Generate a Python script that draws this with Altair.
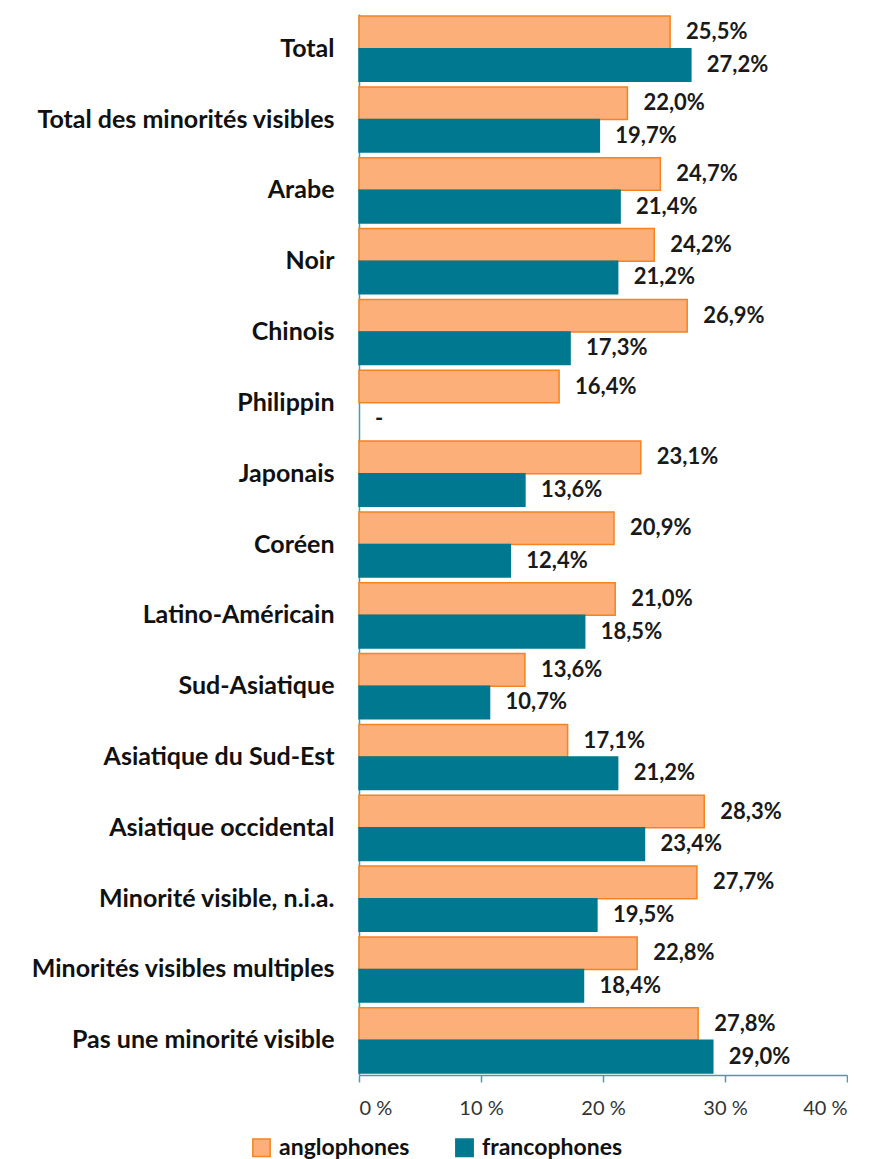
import altair as alt
import pandas as pd

categories = ["Total", "Total des minorités visibles", "Arabe", "Noir", "Chinois",
              "Philippin", "Japonais", "Coréen", "Latino-Américain", "Sud-Asiatique",
              "Asiatique du Sud-Est", "Asiatique occidental", "Minorité visible, n.i.a.",
              "Minorités visibles multiples", "Pas une minorité visible"]
anglophones = [25.5, 22.0, 24.7, 24.2, 26.9, 16.4, 23.1, 20.9, 21.0, 13.6, 17.1, 28.3, 27.7, 22.8, 27.8]
francophones = [27.2, 19.7, 21.4, 21.2, 17.3, None, 13.6, 12.4, 18.5, 10.7, 21.2, 23.4, 19.5, 18.4, 29.0]
groups = ["anglophones", "francophones"]

rows = []
for i, c in enumerate(categories):
    for g, vals in zip(groups, [anglophones, francophones]):
        v = vals[i]
        rows.append({
            "cat": c,
            "group": g,
            "value": v,
            "pos": v if v is not None else 0,
            "label": (f"{v:.1f}".replace(".", ",") + "%") if v is not None else "-",
        })
df = pd.DataFrame(rows)

FONT = "Lato"
AXIS_COLOR = "#4A9AB0"

y_enc = alt.Y("cat:N", sort=categories,
              scale=alt.Scale(paddingInner=0.08, paddingOuter=0.03),
              axis=alt.Axis(title=None, ticks=False, domainColor=AXIS_COLOR, domainWidth=1.5,
                            labelFontSize=25, labelFontWeight="bold", labelColor="#111111",
                            labelPadding=25, labelFont=FONT, labelLimit=500))
yoff = alt.YOffset("group:N", sort=groups, scale=alt.Scale(paddingInner=0, paddingOuter=0))

bars = alt.Chart(df).mark_bar(strokeWidth=1.5).encode(
    x=alt.X("value:Q", scale=alt.Scale(domain=[0, 40], nice=False),
            axis=alt.Axis(title=None, values=[0, 10, 20, 30, 40], grid=False,
                          labelExpr="datum.value + ' %'", labelFontSize=20, labelColor="#333333",
                          labelFont=FONT, tickSize=7, tickColor=AXIS_COLOR, tickWidth=1.5,
                          domainColor=AXIS_COLOR, domainWidth=1.5, labelPadding=16)),
    y=y_enc,
    yOffset=yoff,
    color=alt.Color("group:N", sort=groups, title=None,
                    scale=alt.Scale(domain=groups, range=["#FCAF78", "#00788F"]),
                    legend=alt.Legend(orient="none", legendX=-109, legendY=1122,
                                      direction="horizontal")),
    stroke=alt.Stroke("group:N", sort=groups, title=None,
                      scale=alt.Scale(domain=groups, range=["#F5831F", "#00788F"]),
                      legend=alt.Legend(orient="none", legendX=-109, legendY=1122,
                                        direction="horizontal")),
)

texts = alt.Chart(df).mark_text(align="left", baseline="middle", dx=16, fontSize=22,
                                fontWeight="bold", font=FONT, color="#1a1a1a").encode(
    x="pos:Q",
    y=alt.Y("cat:N", sort=categories),
    yOffset=yoff,
    text="label:N",
)

chart = alt.layer(bars, texts).properties(
    width=488, height=1061,
    padding={"top": 6, "left": 22, "right": 0, "bottom": 5},
).configure_view(stroke=None).configure_legend(
    labelFontSize=23, labelFontWeight="bold",
    labelFont=FONT, labelColor="#111111", symbolType="square", symbolSize=300,
    columnPadding=42, symbolStrokeWidth=1.5, labelOffset=6,
)

chart.save("out.html", embed_options={"renderer": "svg", "actions": False})
